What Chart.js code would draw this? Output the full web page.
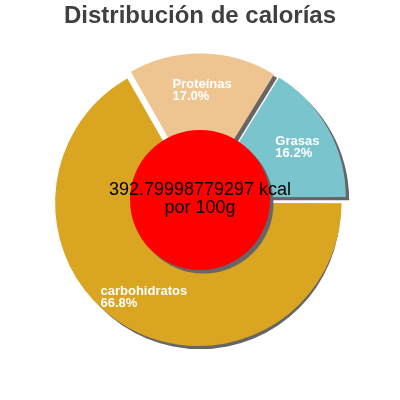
<!DOCTYPE html>
<html>
<head>
<meta charset="utf-8">
<script src="https://cdn.jsdelivr.net/npm/chart.js@4.4.1/dist/chart.umd.min.js"></script>
<style>
  html, body { margin: 0; padding: 0; background: #fff; }
  #wrap { width: 400px; height: 400px; }
</style>
</head>
<body>
<div id="wrap"><canvas id="chart-area"></canvas></div>
<script>
// datos del grafico
var categorias = ['carbohidratos', 'Proteínas', 'Grasas'];
var porcentajes = [66.8, 17.0, 16.2];
var colores = ['#daa520', '#eec591', '#7ac5cd'];
var energia = '392.79998779297';
var unidad = 'kcal';
var porcion = 'por 100g';

var FUENTE = "'Liberation Sans', Arial, sans-serif";
var RADIO = 140;
var SEPARACION = 6.5;   // cuanto se separa cada porcion
var SOMBRA = 3.5;
var GRIS = '#666666';

// Chart.js mueve la porcion offset/4*(1+fix), se invierte eso
function offsetPara(ctx) {
  var total = porcentajes.reduce(function(a, b) { return a + b; }, 0);
  var ang = porcentajes[ctx.dataIndex] / total * 2 * Math.PI;
  var fix = 1 - Math.sin(Math.min(Math.PI, ang));
  return SEPARACION * 4 / (1 + fix);
}

function desplazamiento(arc) {
  var ang = arc.endAngle - arc.startAngle;
  var fix = 1 - Math.sin(Math.min(Math.PI, ang));
  var t = (arc.options.offset || 0) / 4 * (1 + fix);
  var mid = (arc.startAngle + arc.endAngle) / 2;
  return { x: arc.x + Math.cos(mid) * t, y: arc.y + Math.sin(mid) * t, mid: mid };
}

var sombras = {
  id: 'sombras',
  beforeDatasetsDraw: function(chart) {
    var ctx = chart.ctx;
    chart.getDatasetMeta(0).data.forEach(function(arc) {
      var c = desplazamiento(arc);
      ctx.save();
      ctx.fillStyle = GRIS;
      ctx.beginPath();
      ctx.moveTo(c.x + SOMBRA, c.y + SOMBRA);
      ctx.arc(c.x + SOMBRA, c.y + SOMBRA, arc.outerRadius, arc.startAngle, arc.endAngle);
      ctx.closePath();
      ctx.fill();
      ctx.restore();
    });
  },
  afterDatasetsDraw: function(chart) {
    var ctx = chart.ctx;
    var arcs = chart.getDatasetMeta(0).data;
    var cx = arcs[0].x, cy = arcs[0].y, r = arcs[0].outerRadius / 2;
    ctx.save();
    // circulo rojo con su sombra
    ctx.fillStyle = GRIS;
    ctx.beginPath();
    ctx.arc(cx + SOMBRA, cy + SOMBRA, r, 0, 2 * Math.PI);
    ctx.fill();
    ctx.fillStyle = '#ff0000';
    ctx.beginPath();
    ctx.arc(cx, cy, r, 0, 2 * Math.PI);
    ctx.fill();

    // etiquetas
    ctx.font = 'bold 13px ' + FUENTE;
    ctx.fillStyle = '#ffffff';
    ctx.textAlign = 'left';
    ctx.textBaseline = 'alphabetic';
    arcs.forEach(function(arc, i) {
      var c = desplazamiento(arc);
      var lx = c.x + Math.cos(c.mid) * arc.outerRadius * 0.75;
      var ly = c.y + Math.sin(c.mid) * arc.outerRadius * 0.75;
      var l1 = categorias[i];
      var l2 = porcentajes[i].toFixed(1) + '%';
      var w = Math.max(ctx.measureText(l1).width, ctx.measureText(l2).width);
      ctx.fillText(l1, lx - w / 2, ly - 1);
      ctx.fillText(l2, lx - w / 2, ly + 11);
    });

    // texto central
    ctx.font = '18px ' + FUENTE;
    ctx.fillStyle = '#000000';
    ctx.textAlign = 'center';
    ctx.fillText(energia + ' ' + unidad, cx, cy - 5);
    ctx.fillText(porcion, cx, cy + 13);
    ctx.restore();
  }
};

var config = {
  type: 'pie',
  data: {
    labels: categorias,
    datasets: [{
      data: porcentajes,
      backgroundColor: colores,
      borderWidth: 0,
      offset: offsetPara,
      hoverOffset: 0
    }]
  },
  options: {
    responsive: true,
    maintainAspectRatio: false,
    animation: false,
    events: [],
    rotation: 90,
    radius: RADIO,
    layout: { padding: { top: 0, bottom: 34.8 } },
    plugins: {
      legend: { display: false },
      tooltip: { enabled: false },
      title: {
        display: true,
        text: 'Distribución de calorías',
        color: '#404040',
        font: { family: FUENTE, size: 24, weight: 'bold', lineHeight: 1.2 },
        padding: { top: 2, bottom: 4 }
      }
    }
  },
  plugins: [sombras]
};

var ctx = document.getElementById('chart-area').getContext('2d');
window.myPie = new Chart(ctx, config);
</script>
</body>
</html>
